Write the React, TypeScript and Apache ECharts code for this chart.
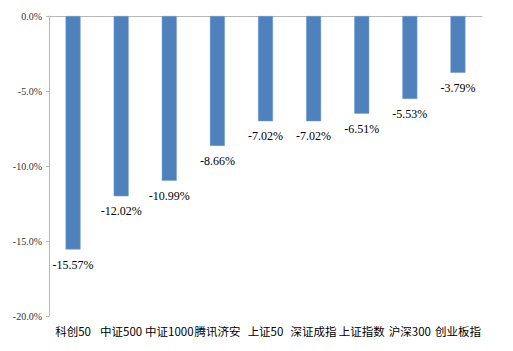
import React, { useEffect, useRef } from "react";
import * as echarts from "echarts";

const categories = ["科创50", "中证500", "中证1000", "腾讯济安", "上证50", "深证成指", "上证指数", "沪深300", "创业板指"];
const values = [-15.57, -12.02, -10.99, -8.66, -7.02, -7.02, -6.51, -5.53, -3.79];
const yMin = -20;
const yMax = 0;
const yInterval = 5;

const serif = "'Liberation Serif', 'DejaVu Serif', serif";

export default function App() {
  const ref = useRef<HTMLDivElement>(null);
  useEffect(() => {
    if (!ref.current) return;
    const chart = echarts.init(ref.current, undefined, { renderer: "svg" });
    chart.setOption({
      animation: false,
      backgroundColor: "#ffffff",
      grid: { left: 49, top: 16, right: 31, bottom: 35, containLabel: false },
      xAxis: [
        {
          type: "category",
          data: categories,
          position: "bottom",
          axisLine: { show: false },
          axisTick: { show: false },
          axisLabel: {
            interval: 0,
            margin: 9,
            fontSize: 11.5,
            color: "#000000",
            fontFamily: "'Noto Sans CJK SC', sans-serif",
          },
        },
        {
          type: "category",
          data: categories,
          position: "top",
          axisLine: { show: true, onZero: false, lineStyle: { color: "#b8b8b8", width: 1 } },
          axisTick: { show: false },
          axisLabel: { show: false },
        },
      ],
      yAxis: {
        type: "value",
        min: yMin,
        max: yMax,
        interval: yInterval,
        axisLine: { show: true, lineStyle: { color: "#b8b8b8", width: 1 } },
        axisTick: { show: true, length: 3, lineStyle: { color: "#b8b8b8" } },
        splitLine: { show: false },
        axisLabel: {
          margin: 7,
          fontSize: 10,
          color: "#333333",
          fontFamily: serif,
          formatter: (v: number) => v.toFixed(1) + "%",
        },
      },
      series: [
        {
          type: "bar",
          xAxisIndex: 0,
          data: values,
          barWidth: 15,
          itemStyle: { color: "#4f81bd", borderColor: "#7aa0d0", borderWidth: 0.5 },
          label: {
            show: true,
            position: "bottom",
            distance: 9,
            fontSize: 12,
            color: "#000000",
            fontFamily: serif,
            formatter: (p: any) => p.value.toFixed(2) + "%",
          },
        },
      ],
    });
    return () => chart.dispose();
  }, []);
  return <div ref={ref} style={{ position: "fixed", left: 0, top: 0, width: 513, height: 351 }} />;
}
